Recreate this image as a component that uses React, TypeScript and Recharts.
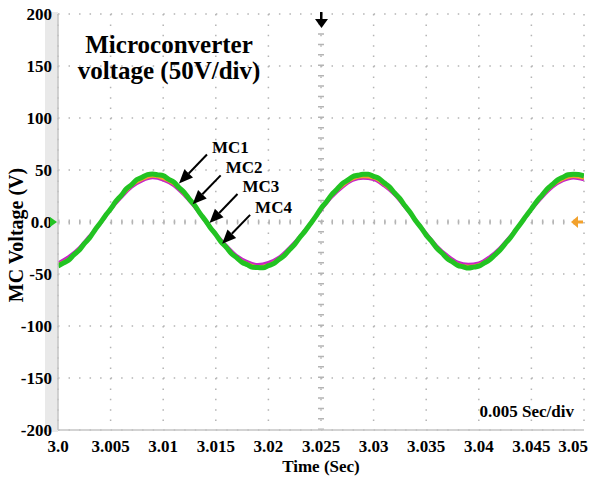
import {
  LineChart,
  Line,
  XAxis,
  YAxis,
  CartesianGrid,
  ReferenceLine,
  ReferenceDot,
} from "recharts";

const FONT = "'Liberation Serif', 'Times New Roman', serif";
const GRID_GRAY = "#b4b4b4";
const FRAME_GRAY = "#c4c4c4";

// sample instants (s)
const timeCoarse = [
  3.0, 3.001, 3.002, 3.003, 3.004, 3.005, 3.006, 3.007, 3.008, 3.009,
  3.01, 3.011, 3.012, 3.013, 3.014, 3.015, 3.016, 3.017, 3.018, 3.019,
  3.02, 3.021, 3.022, 3.023, 3.024, 3.025, 3.026, 3.027, 3.028, 3.029,
  3.03, 3.031, 3.032, 3.033, 3.034, 3.035, 3.036, 3.037, 3.038, 3.039,
  3.04, 3.041, 3.042, 3.043, 3.044, 3.045, 3.046, 3.047, 3.048, 3.049,
  3.05,
];

const timeFine = [
  3.0, 3.0005, 3.001, 3.0015, 3.002, 3.0025, 3.003, 3.0035, 3.004, 3.0045,
  3.005, 3.0055, 3.006, 3.0065, 3.007, 3.0075, 3.008, 3.0085, 3.009, 3.0095,
  3.01, 3.0105, 3.011, 3.0115, 3.012, 3.0125, 3.013, 3.0135, 3.014, 3.0145,
  3.015, 3.0155, 3.016, 3.0165, 3.017, 3.0175, 3.018, 3.0185, 3.019, 3.0195,
  3.02, 3.0205, 3.021, 3.0215, 3.022, 3.0225, 3.023, 3.0235, 3.024, 3.0245,
  3.025, 3.0255, 3.026, 3.0265, 3.027, 3.0275, 3.028, 3.0285, 3.029, 3.0295,
  3.03, 3.0305, 3.031, 3.0315, 3.032, 3.0325, 3.033, 3.0335, 3.034, 3.0345,
  3.035, 3.0355, 3.036, 3.0365, 3.037, 3.0375, 3.038, 3.0385, 3.039, 3.0395,
  3.04, 3.0405, 3.041, 3.0415, 3.042, 3.0425, 3.043, 3.0435, 3.044, 3.0445,
  3.045, 3.0455, 3.046, 3.0465, 3.047, 3.0475, 3.048, 3.0485, 3.049, 3.0495,
  3.05,
];

// microconverter output voltages (V)
const mc1Volts = [
  -42.0, -36.6, -26.8, -15.1, -1.2, 12.5, 24.5, 35.0, 41.2, 44.1,
  42.4, 36.2, 27.2, 14.7, 1.6, -12.1, -24.9, -34.6, -41.6, -43.9,
  -42.3, -36.3, -27.1, -14.8, -1.5, 12.2, 24.8, 34.7, 41.5, 43.8,
  42.1, 36.5, 26.9, 15.0, 1.3, -12.4, -24.6, -34.9, -41.3, -44.1,
  -42.2, -36.5, -26.9, -15.0, -1.3, 12.4, 24.6, 34.9, 41.3, 44.0,
  42.2,
];

const mc2Volts = [
  -40.6, -35.3, -25.9, -14.6, -1.1, 12.3, 24.2, 34.6, 40.7, 43.7,
  41.6, 36.2, 26.5, 14.9, 1.5, -12.1, -23.7, -33.8, -39.8, -42.7,
  -41.0, -34.9, -26.3, -14.2, -1.5, 11.9, 24.6, 34.2, 41.1, 43.3,
  42.0, 35.8, 26.9, 14.5, 1.1, -11.7, -24.1, -33.4, -40.2, -42.3,
  -40.7, -35.2, -26.0, -14.5, -1.2, 12.2, 24.3, 34.5, 40.8, 43.6,
  41.7,
];

const mc3Volts = [
  -39.6, -33.7, -25.3, -13.7, -1.5, 12.1, 23.7, 33.8, 39.8, 42.7,
  40.6, 35.3, 25.9, 14.6, 1.1, -11.6, -22.8, -32.6, -38.4, -41.2,
  -39.2, -34.1, -24.9, -14.1, -1.2, 11.7, 24.1, 33.4, 40.2, 42.3,
  41.0, 34.9, 26.3, 14.2, 1.5, -11.2, -23.2, -32.2, -38.8, -40.8,
  -39.5, -33.8, -25.2, -13.8, -1.4, 12.0, 23.8, 33.7, 39.9, 42.6,
  40.7,
];

const mc4Volts = [
  -42.3, -39.5, -36.8, -31.6, -27.3, -20.8, -15.4, -7.9, -1.1, 6.1,
  12.5, 19.9, 25.4, 31.9, 36.0, 40.8, 43.0, 45.6, 46.2, 45.3,
  44.6, 41.2, 38.4, 33.1, 28.5, 21.8, 15.9, 8.3, 1.7, -5.8,
  -12.0, -19.1, -24.4, -30.5, -34.5, -38.9, -41.1, -43.6, -43.8, -44.1,
  -42.0, -40.1, -36.1, -32.4, -26.7, -21.5, -14.6, -8.5, -1.6, 5.4,
  13.1, 19.3, 26.2, 31.2, 36.7, 40.0, 43.6, 44.9, 45.8, 45.9,
  43.9, 41.9, 37.7, 33.8, 27.9, 22.5, 15.3, 8.9, 1.2, -5.3,
  -12.6, -18.4, -25.0, -29.8, -35.1, -38.3, -41.7, -43.0, -44.3, -43.4,
  -42.5, -39.6, -36.6, -31.9, -27.2, -21.0, -15.1, -8.0, -1.2, 5.9,
  12.6, 19.8, 25.7, 31.7, 36.1, 40.5, 43.1, 45.4, 45.9, 45.7,
  44.3,
];

const timeTicks = [3.0, 3.005, 3.01, 3.015, 3.02, 3.025, 3.03, 3.035, 3.04, 3.045, 3.05];
const timeTickLabels = ["3.0", "3.005", "3.01", "3.015", "3.02", "3.025", "3.03", "3.035", "3.04", "3.045", "3.05"];
const voltTicks = [-200, -150, -100, -50, 0, 50, 100, 150, 200];
const voltTickLabels = ["-200", "-150", "-100", "-50", "0.0", "50", "100", "150", "200"];

// callout arrows: where each head touches the traces
const traceNames = ["MC1", "MC2", "MC3", "MC4"];
const arrowTimes = [3.0115, 3.0128, 3.0144, 3.0156];
const arrowVolts = [37, 17, -1, -21];

// minor division marks along the frame
const minorVoltTicks = Array.from({ length: 41 }, (_, i) => -200 + i * 10);

const toPoints = (times: number[], volts: number[]) =>
  times.map((t, i) => ({ t, v: volts[i] }));

// drawn back to front, green ends up on top
const traces = [
  { name: "MC1", color: "#2cc3c6", width: 3, data: toPoints(timeCoarse, mc1Volts) },
  { name: "MC3", color: "#c824c8", width: 3.5, data: toPoints(timeCoarse, mc3Volts) },
  { name: "MC2", color: "#f2a12c", width: 2.5, data: toPoints(timeCoarse, mc2Volts) },
  { name: "MC4", color: "#22c322", width: 5, data: toPoints(timeFine, mc4Volts) },
];

const tickFont = { fill: "#000", fontSize: 17, fontWeight: "bold", fontFamily: FONT };

const TimeTick = (props: any) => {
  const { x, y, payload } = props;
  const idx = timeTicks.indexOf(payload.value);
  const last = idx === timeTicks.length - 1;
  return (
    <text
      x={last ? x + 4 : x}
      y={y}
      dy="0.71em"
      textAnchor={last ? "end" : "middle"}
      {...tickFont}
    >
      {timeTickLabels[idx]}
    </text>
  );
};

// volt labels; the zero label carries the green ground marker
const VoltTick = (props: any) => {
  const { x, y, payload } = props;
  const idx = voltTicks.indexOf(payload.value);
  return (
    <g>
      <text x={x} y={y} dy="0.355em" textAnchor="end" {...tickFont}>
        {voltTickLabels[idx]}
      </text>
      {payload.value === 0 && (
        <polygon
          points={`${x - 2},${y - 5} ${x - 2},${y + 5} ${x + 5},${y}`}
          fill="#22c322"
        />
      )}
    </g>
  );
};

const CalloutArrow = ({ cx, cy, text }: any) => {
  const dx = 28;
  const dy = -29;
  const len = Math.hypot(dx, dy);
  const ux = dx / len;
  const uy = dy / len;
  const bx = cx + ux * 14;
  const by = cy + uy * 14;
  const px = -uy * 6;
  const py = ux * 6;
  return (
    <g>
      <line x1={cx + dx} y1={cy + dy} x2={bx} y2={by} stroke="#000" strokeWidth={2} />
      <polygon
        points={`${cx},${cy} ${bx + px},${by + py} ${bx - px},${by - py}`}
        fill="#000"
      />
      <text x={cx + 33} y={cy - 31} fontSize={17} fontWeight="bold" fontFamily={FONT} fill="#000">
        {text}
      </text>
    </g>
  );
};

const TriggerMark = ({ cx, cy }: any) => (
  <g>
    <rect x={cx - 1} y={cy - 2} width={2.5} height={9} fill="#000" />
    <polygon points={`${cx - 6},${cy + 5} ${cx + 7},${cy + 5} ${cx + 0.5},${cy + 14}`} fill="#000" />
  </g>
);

const LevelMark = ({ cx, cy }: any) => (
  <g>
    <polygon points={`${cx - 13},${cy} ${cx - 6},${cy - 6} ${cx - 6},${cy + 6}`} fill="#f2a12c" />
    <rect x={cx - 7} y={cy - 1.5} width={6} height={3} fill="#f2a12c" />
  </g>
);

const App = () => (
  <div style={{ position: "absolute", left: 0, top: 0, width: 596, height: 477, background: "#fff" }}>
    <div style={{ position: "absolute", left: 45, top: 12, width: 13, height: 420, background: "#e9e9e9" }} />
    <div style={{ position: "absolute", left: 0, top: 0 }}>
      <LineChart width={596} height={477} margin={{ top: 14, right: 12, left: 0, bottom: 0 }}>
        <CartesianGrid
          horizontal
          vertical={false}
          fill="#fff"
          stroke={GRID_GRAY}
          strokeWidth={1.5}
          strokeDasharray="1.5 9.02"
        />
        <CartesianGrid
          horizontal={false}
          vertical
          stroke={GRID_GRAY}
          strokeWidth={1.5}
          strokeDasharray="1.5 8.9"
        />
        <XAxis
          dataKey="t"
          type="number"
          domain={[3.0, 3.05]}
          ticks={timeTicks}
          interval={0}
          height={47}
          tick={<TimeTick />}
          tickLine={false}
          tickSize={6}
          tickMargin={4}
          axisLine={{ stroke: FRAME_GRAY, strokeWidth: 1.5 }}
          allowDataOverflow
          label={{
            value: "Time (Sec)",
            position: "insideBottom",
            offset: 5,
            fill: "#000",
            fontSize: 17,
            fontWeight: "bold",
            fontFamily: FONT,
          }}
        />
        <YAxis
          type="number"
          domain={[-200, 200]}
          ticks={voltTicks}
          interval={0}
          width={58}
          tick={<VoltTick />}
          tickLine={false}
          tickSize={4}
          tickMargin={2}
          axisLine={{ stroke: FRAME_GRAY, strokeWidth: 1.5 }}
          allowDataOverflow
          label={{
            content: ({ viewBox }: any) => {
              const x = viewBox.x + 23;
              const y = viewBox.y + viewBox.height / 2 + 13;
              return (
                <text
                  x={x}
                  y={y}
                  transform={`rotate(-90 ${x} ${y})`}
                  textAnchor="middle"
                  fontSize={20}
                  fontWeight="bold"
                  fontFamily={FONT}
                  fill="#000"
                >
                  MC Voltage (V)
                </text>
              );
            },
          }}
        />
        {/* minor division marks on all four frame edges */}
        <XAxis
          xAxisId="frameBottom"
          type="number"
          orientation="bottom"
          mirror
          height={0}
          domain={[3.0, 3.05]}
          ticks={timeCoarse}
          interval={0}
          tick={false}
          tickSize={4}
          tickLine={{ stroke: FRAME_GRAY, strokeWidth: 1.2 }}
          axisLine={false}
          allowDataOverflow
        />
        <XAxis
          xAxisId="frameTop"
          type="number"
          orientation="top"
          mirror
          height={0}
          domain={[3.0, 3.05]}
          ticks={timeCoarse}
          interval={0}
          tick={false}
          tickSize={4}
          tickLine={{ stroke: FRAME_GRAY, strokeWidth: 1.2 }}
          axisLine={{ stroke: FRAME_GRAY, strokeWidth: 2 }}
          allowDataOverflow
        />
        <YAxis
          yAxisId="frameLeft"
          type="number"
          orientation="left"
          mirror
          width={0}
          domain={[-200, 200]}
          ticks={minorVoltTicks}
          interval={0}
          tick={false}
          tickSize={4}
          tickLine={{ stroke: FRAME_GRAY, strokeWidth: 1.2 }}
          axisLine={false}
          allowDataOverflow
        />
        <YAxis
          yAxisId="frameRight"
          type="number"
          orientation="right"
          mirror
          width={0}
          domain={[-200, 200]}
          ticks={minorVoltTicks}
          interval={0}
          tick={false}
          tickSize={4}
          tickLine={{ stroke: FRAME_GRAY, strokeWidth: 1.2 }}
          axisLine={{ stroke: FRAME_GRAY, strokeWidth: 2 }}
          allowDataOverflow
        />

        {/* centre graticule with its tick marks */}
        <ReferenceLine y={0} stroke={GRID_GRAY} strokeWidth={5} strokeDasharray="1.5 9.02" />
        <ReferenceLine x={3.025} stroke={GRID_GRAY} strokeWidth={6} strokeDasharray="1.5 8.9" />

        {traces.map((s) => (
          <Line
            key={s.name}
            name={s.name}
            data={s.data}
            dataKey="v"
            type="monotone"
            stroke={s.color}
            strokeWidth={s.width}
            dot={false}
            activeDot={false}
            isAnimationActive={false}
          />
        ))}

        <ReferenceDot x={3.025} y={200} ifOverflow="visible" shape={(p: any) => <TriggerMark {...p} />} />
        <ReferenceDot x={3.05} y={0} ifOverflow="visible" shape={(p: any) => <LevelMark {...p} />} />
        {traceNames.map((name, i) => (
          <ReferenceDot
            key={name}
            x={arrowTimes[i]}
            y={arrowVolts[i]}
            shape={(p: any) => <CalloutArrow {...p} text={name} />}
          />
        ))}
      </LineChart>
    </div>
    <svg
      width={596}
      height={477}
      style={{ position: "absolute", left: 0, top: 0, pointerEvents: "none" }}
    >
      <g fontFamily={FONT} fontWeight="bold" fill="#000">
        <text x={169} y={53} fontSize={25} textAnchor="middle">
          Microconverter
        </text>
        <text x={169} y={79} fontSize={25} textAnchor="middle">
          voltage (50V/div)
        </text>
        <text x={574} y={417} fontSize={17} textAnchor="end">
          0.005 Sec/div
        </text>
      </g>
    </svg>
  </div>
);

export default App;
